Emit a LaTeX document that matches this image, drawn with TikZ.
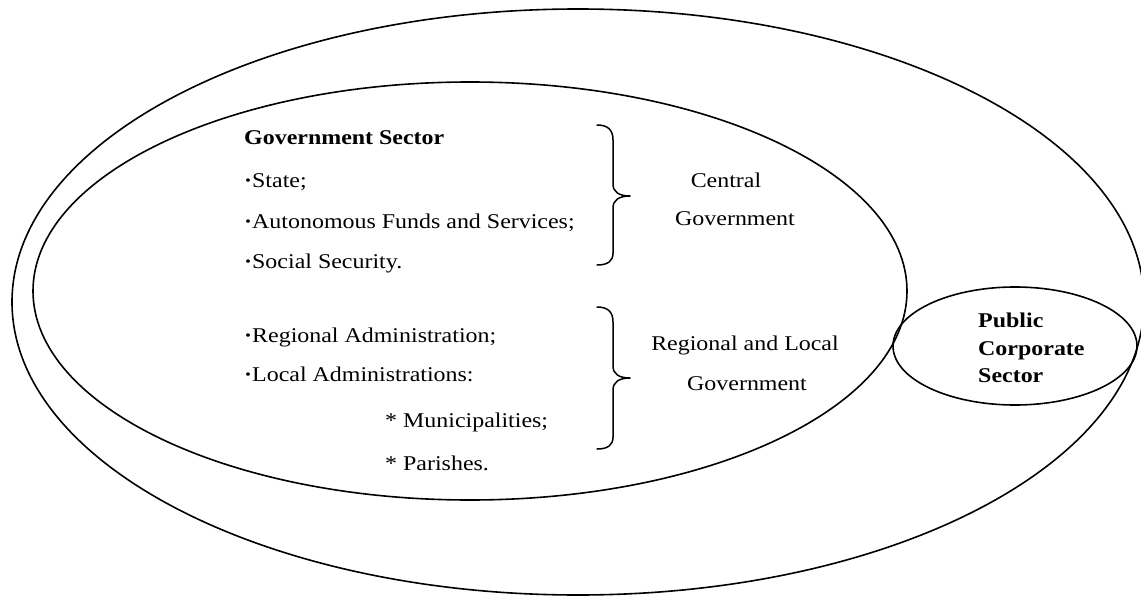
\documentclass[tikz,border=0pt]{standalone}
\usepackage{fontspec}
\setmainfont[FakeStretch=1.14]{Liberation Serif}
\newcommand\bul{\textbf{·}}
\begin{document}
\begin{tikzpicture}[x=1pt,y=-1pt,
  outline/.style={draw=black,line width=1.6pt},
  txt/.style={inner sep=0pt,anchor=base west,font=\fontsize{21}{25}\selectfont},
  ctr/.style={inner sep=0pt,anchor=base,font=\fontsize{21}{25}\selectfont},
  heading/.style={txt,font=\fontsize{21}{25}\selectfont\bfseries},
  bracket/.style={draw=black,line width=1.5pt,line cap=round,line join=round}]
\useasboundingbox (0,0) rectangle (1141,599);
% public sector boundary
\begin{scope}
  \clip (0,0) rectangle (1141,599);
  \draw[outline] (578,302) ellipse [x radius=566, y radius=293];
\end{scope}
% government sector
\draw[outline] (470,291) ellipse [x radius=437, y radius=209];
% public corporate sector
\draw[outline] (1015,346) ellipse [x radius=122, y radius=59];

% government sector contents
\node[heading] (gs) at (244,145) {Government Sector};
\node[txt] (st) at (244,188) {\bul State;};
\node[txt] (af) at (244,228) {\bul Autonomous Funds and Services;};
\node[txt] (ss) at (244,268) {\bul Social Security.};
\node[txt] (ra) at (244,342) {\bul Regional Administration;};
\node[txt] (la) at (244,381) {\bul Local Administrations:};
\node[txt] (mu) at (385,427) {* Municipalities;};
\node[txt] (pa) at (385,470) {* Parishes.};

% grouping labels
\node[ctr] (c1) at (726,187) {Central};
\node[ctr] (c2) at (735,225) {Government};
\node[ctr] (r1) at (745,350) {Regional and Local};
\node[ctr] (r2) at (747,390) {Government};

% public corporate sector label
\node[heading] (p1) at (978,327) {Public};
\node[heading] (p2) at (978,355) {Corporate};
\node[heading] (p3) at (978,382) {Sector};

% braces
\draw[bracket] (597,125) .. controls (608,125) and (613,130) .. (613,140)
  -- (613,184) .. controls (613,192) and (619,196) .. (630,196)
  .. controls (619,196) and (613,200) .. (613,208)
  -- (613,253) .. controls (613,261) and (608,265) .. (597,265);
\draw[bracket] (597,307) .. controls (608,307) and (613,312) .. (613,322)
  -- (613,366) .. controls (613,374) and (619,378) .. (630,378)
  .. controls (619,378) and (613,382) .. (613,390)
  -- (613,437) .. controls (613,445) and (608,449) .. (597,449);
\end{tikzpicture}
\end{document}
